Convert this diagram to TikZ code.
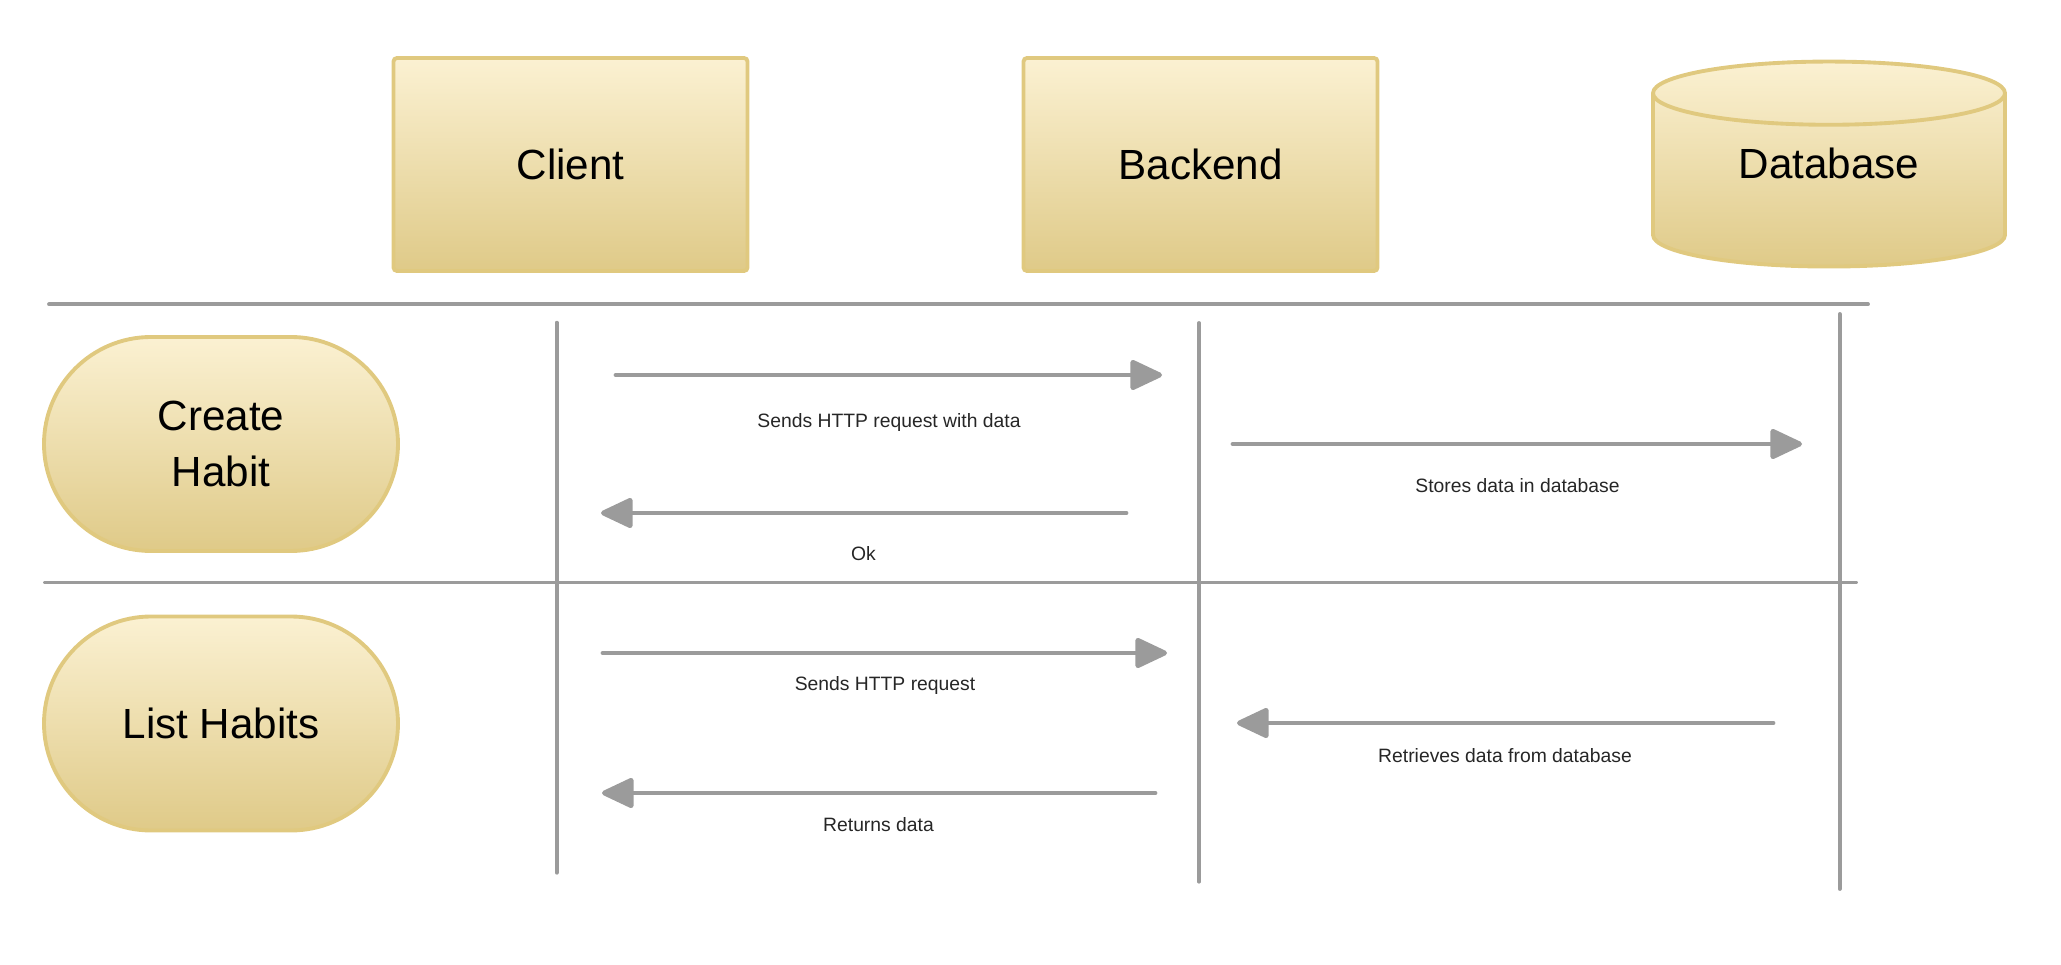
\documentclass[tikz,border=0pt]{standalone}
\usepackage{fontspec}
\setmainfont{Liberation Sans}
\usetikzlibrary{positioning, arrows.meta, shapes.geometric}
\definecolor{boxtop}{HTML}{FBF1D2}
\definecolor{boxbot}{HTML}{DFCA88}
\definecolor{boxrim}{HTML}{E0C97F}
\definecolor{wire}{HTML}{9B9B9B}
\tikzset{
    actor/.style = {draw=boxrim, line width=1.1pt, top color=boxtop, bottom color=boxbot,
        font=\fontsize{12}{16}\selectfont, align=center},
    actor box/.style = {actor, rectangle, rounded corners=1pt, minimum width=3.54cm, minimum height=2.13cm},
    usecase/.style = {actor, rectangle, rounded corners=1.07cm, minimum width=3.54cm, minimum height=2.14cm},
    store/.style = {actor, cylinder, shape border rotate=90, aspect=0.31, text depth=0.47cm,
        minimum width=3.52cm, minimum height=2.05cm},
}
\tikzset{
    lane/.style = {draw=wire, line width=1.1pt, line cap=round},
    msg/.style = {draw=wire, line width=1.4pt, line cap=round, -{Triangle[length=10pt, width=9pt, round]}},
    msg text/.style = {font=\fontsize{5.5}{7}\selectfont, text=black!85},
}

\begin{document}
\begin{tikzpicture}[every node/.style=on grid, node distance=6.3cm]
    \useasboundingbox (0,0) rectangle (20.61,-9.65);

    % participants
    \node[actor box] (client) at (5.705,-1.645) {Client};
    \node[actor box, right=of client] (backend) {Backend};
    \node[store, right=6.285cm of backend, yshift=-2.2mm] (db) {Database};

    % use cases
    \node[usecase] (create) at (2.21,-4.44) {Create\\Habit};
    \node[usecase, below=2.795cm of create] (list) {List Habits};

    % separators and lifelines
    \coordinate (sep1 w) at (0.49,-3.043);
    \coordinate (sep1 e) at (18.68,-3.043);
    \coordinate (sep2 w) at (0.45,-5.825);
    \coordinate (sep2 e) at (18.56,-5.825);
    \coordinate (client top) at (5.567,-3.227);
    \coordinate (client bot) at (5.567,-8.727);
    \coordinate (backend top) at (11.99,-3.23);
    \coordinate (backend bot) at (11.99,-8.817);
    \coordinate (db top) at (18.397,-3.14);
    \coordinate (db bot) at (18.397,-8.89);

    \draw[lane] (sep1 w) -- (sep1 e);
    \draw[lane] (sep2 w) -- (sep2 e);
    \draw[lane] (client top) -- (client bot);
    \draw[lane] (backend top) -- (backend bot);
    \draw[lane] (db top) -- (db bot);

    % messages
    \coordinate (m1 a) at (6.16,-3.75);
    \coordinate (m1 b) at (11.62,-3.75);
    \coordinate (m2 a) at (12.33,-4.44);
    \coordinate (m2 b) at (18.02,-4.44);
    \coordinate (m3 a) at (11.26,-5.13);
    \coordinate (m3 b) at (6.01,-5.13);
    \coordinate (m4 a) at (6.03,-6.53);
    \coordinate (m4 b) at (11.67,-6.53);
    \coordinate (m5 a) at (17.73,-7.23);
    \coordinate (m5 b) at (12.37,-7.23);
    \coordinate (m6 a) at (11.55,-7.93);
    \coordinate (m6 b) at (6.02,-7.93);

    \draw[msg] (m1 a) -- node[msg text, midway, yshift=-4.8mm] {Sends HTTP request with data} (m1 b);
    \draw[msg] (m2 a) -- node[msg text, midway, yshift=-4.2mm] {Stores data in database} (m2 b);
    \draw[msg] (m3 a) -- node[msg text, midway, yshift=-4.1mm] {Ok} (m3 b);
    \draw[msg] (m4 a) -- node[msg text, midway, yshift=-3.3mm] {Sends HTTP request} (m4 b);
    \draw[msg] (m5 a) -- node[msg text, midway, yshift=-3.3mm] {Retrieves data from database} (m5 b);
    \draw[msg] (m6 a) -- node[msg text, midway, yshift=-3.2mm] {Returns data} (m6 b);
\end{tikzpicture}
\end{document}
